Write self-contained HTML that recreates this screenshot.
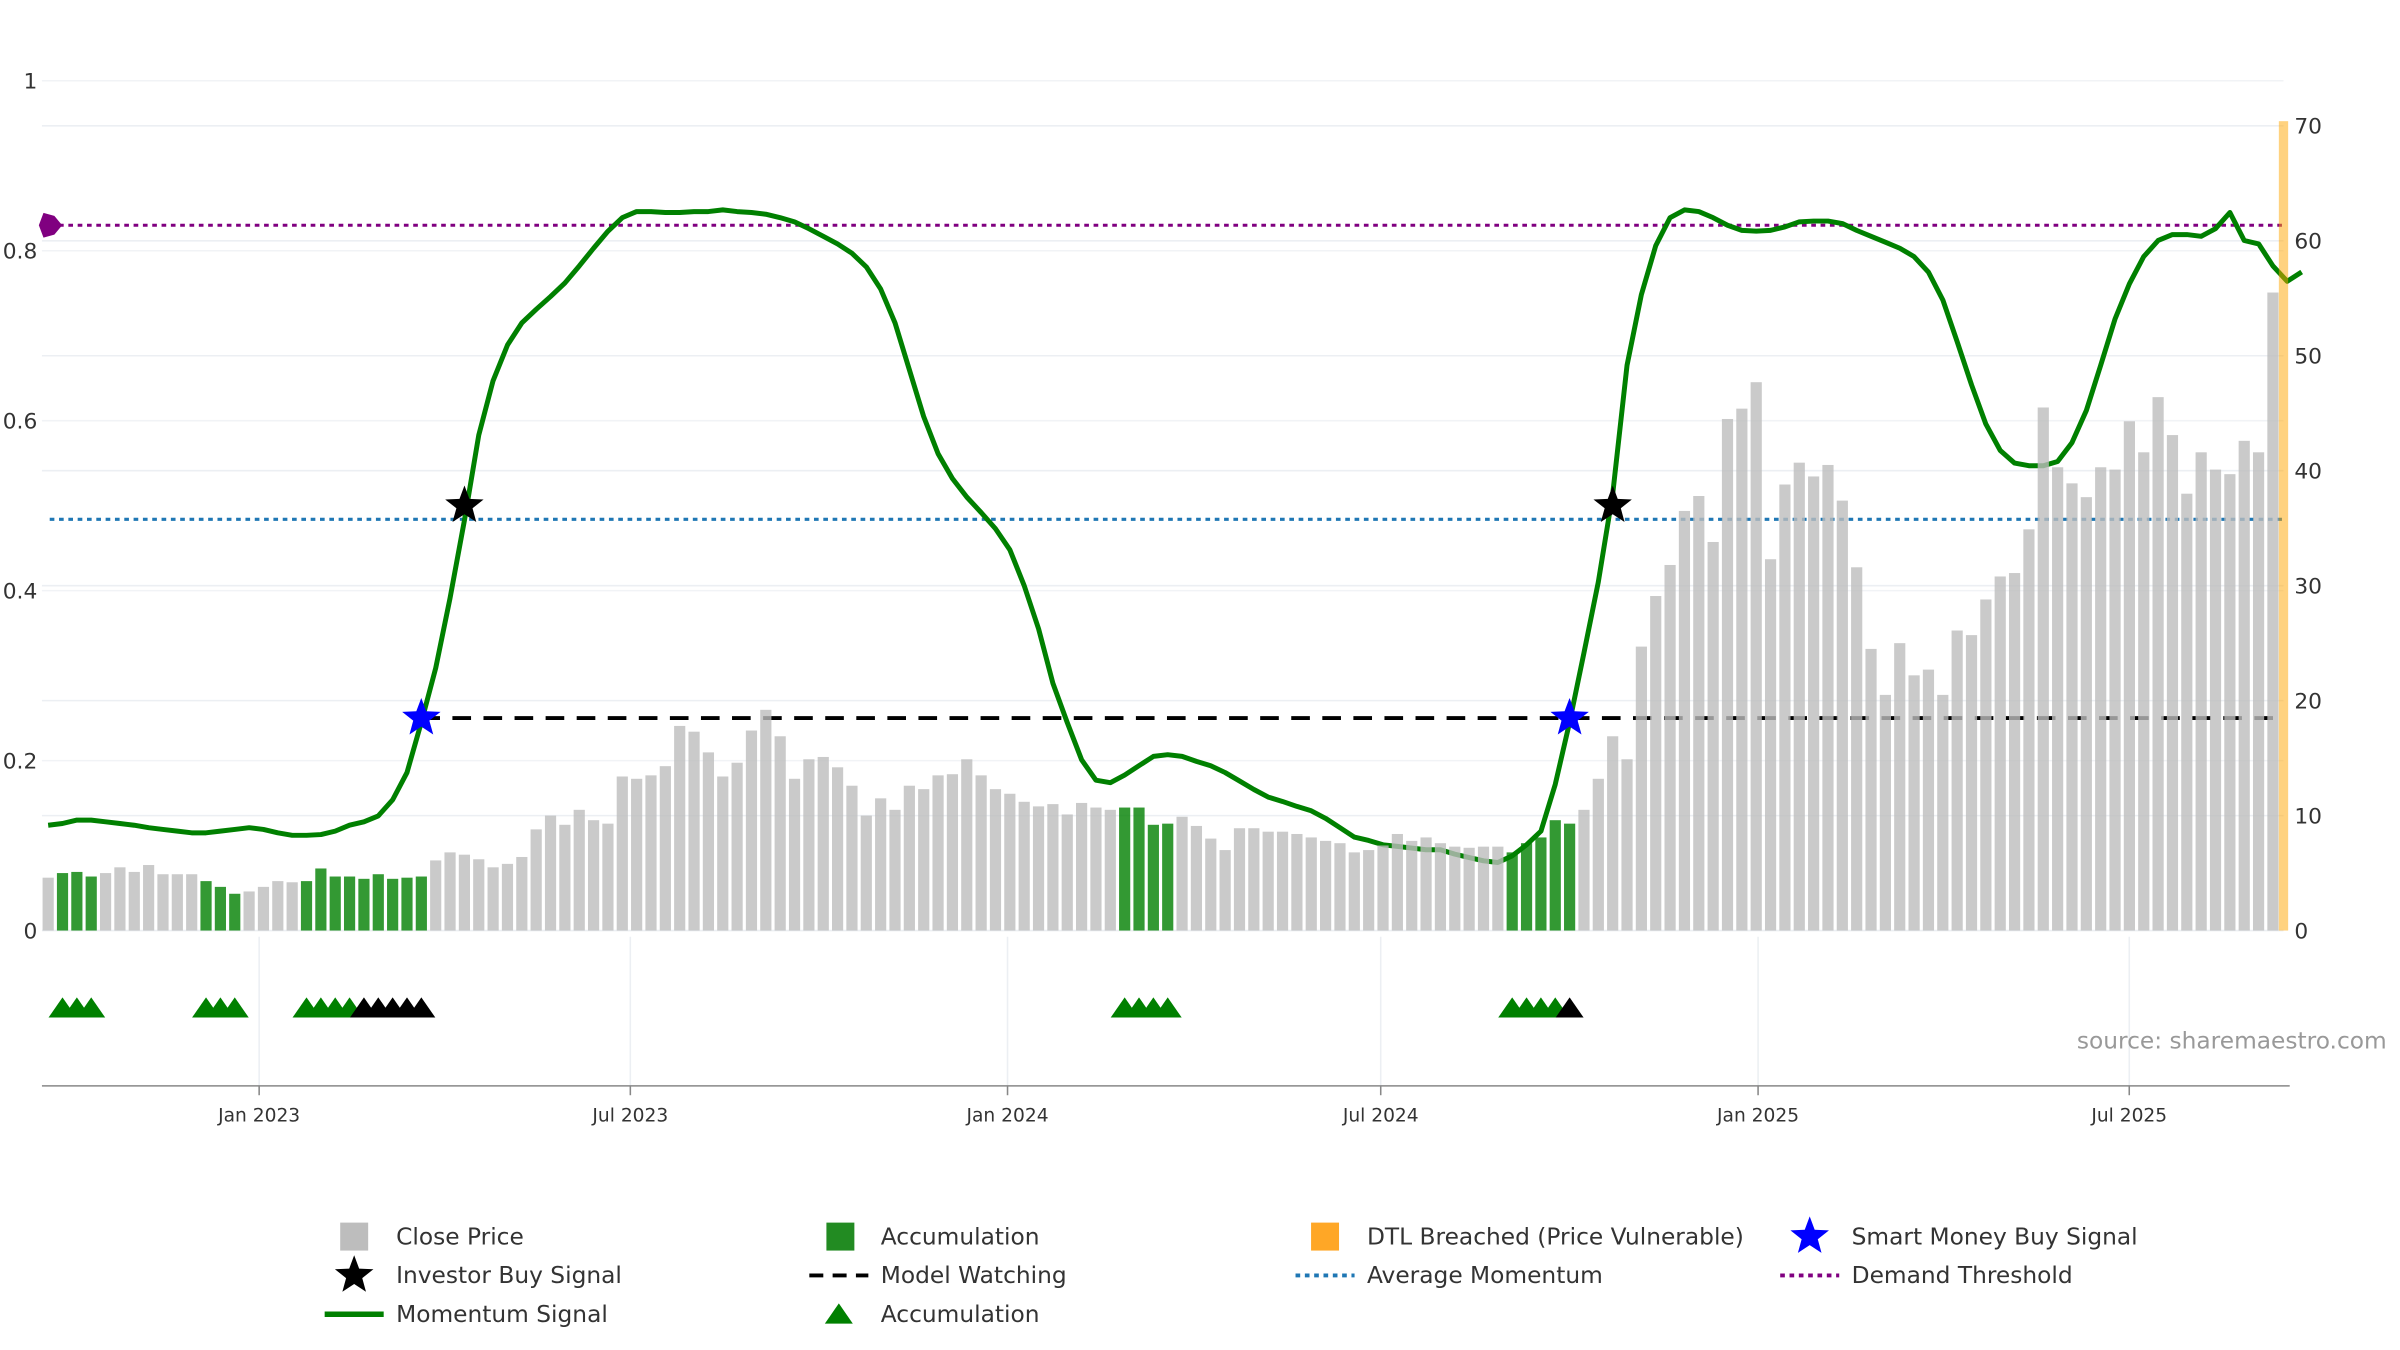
<!DOCTYPE html>
<html><head><meta charset="utf-8"><style>
html,body{margin:0;padding:0;background:#fff;}
svg{display:block;font-family:"DejaVu Sans","Liberation Sans",sans-serif;}
</style></head><body>
<svg id="chart" width="2400" height="1350" viewBox="0 0 1545 869" preserveAspectRatio="none" xmlns="http://www.w3.org/2000/svg">
<g id="grid"></g>
<g id="hlines"></g>
<g id="line"></g>
<g id="bars"></g>
<g id="marks"></g>
<g id="axes"></g>
<text x="1337" y="675" font-size="15" fill="#999">source: sharemaestro.com</text>
<g id="legend"></g>
</svg>
<script>
// ---- data ----
const closePrice = [4.6,5.0,5.1,4.7,5.0,5.5,5.1,5.7,4.9,4.9,4.9,4.3,3.8,3.2,3.4,3.8,4.3,4.2,4.3,5.4,4.7,4.7,4.5,4.9,4.5,4.6,4.7,6.1,6.8,6.6,6.2,5.5,5.8,6.4,8.8,10.0,9.2,10.5,9.6,9.3,13.4,13.2,13.5,14.3,17.8,17.3,15.5,13.4,14.6,17.4,19.2,16.9,13.2,14.9,15.1,14.2,12.6,10.0,11.5,10.5,12.6,12.3,13.5,13.6,14.9,13.5,12.3,11.9,11.2,10.8,11.0,10.1,11.1,10.7,10.5,10.7,10.7,9.2,9.3,9.9,9.1,8.0,7.0,8.9,8.9,8.6,8.6,8.4,8.1,7.8,7.6,6.8,7.0,7.4,8.4,7.8,8.1,7.6,7.3,7.2,7.3,7.3,6.8,7.6,8.1,9.6,9.3,10.5,13.2,16.9,14.9,24.7,29.1,31.8,36.5,37.8,33.8,44.5,45.4,47.7,32.3,38.8,40.7,39.5,40.5,37.4,31.6,24.5,20.5,25.0,22.2,22.7,20.5,26.1,25.7,28.8,30.8,31.1,34.9,45.5,40.3,38.9,37.7,40.3,40.1,44.3,41.6,46.4,43.1,38.0,41.6,40.1,39.7,42.6,41.6,55.5];
const momentum = [.124,.126,.130,.130,.128,.126,.124,.121,.119,.117,.115,.115,.117,.119,.121,.119,.115,.112,.112,.113,.117,.124,.128,.135,.154,.186,.245,.309,.391,.483,.583,.647,.689,.715,.731,.746,.762,.782,.803,.823,.839,.846,.846,.845,.845,.846,.846,.848,.846,.845,.843,.839,.834,.826,.817,.808,.797,.781,.755,.715,.660,.605,.561,.532,.510,.492,.473,.448,.406,.355,.291,.245,.201,.177,.174,.183,.194,.205,.207,.205,.199,.194,.186,.176,.166,.157,.152,.146,.141,.132,.121,.110,.106,.101,.099,.097,.095,.095,.090,.086,.082,.080,.088,.101,.117,.172,.245,.327,.410,.514,.665,.748,.806,.839,.848,.846,.839,.830,.824,.823,.824,.828,.834,.835,.835,.832,.824,.817,.810,.803,.793,.775,.742,.693,.642,.596,.565,.550,.547,.547,.552,.574,.612,.665,.720,.761,.793,.812,.819,.819,.817,.826,.845,.812,.808,.782,.764,.775];
const accumBars = [1,2,3,11,12,13,18,19,20,21,22,23,24,25,26,75,76,77,78,102,103,104,105,106];
const accumTriangles = [1,2,3,11,12,13,18,19,20,21,75,76,77,78,102,103,104,105];
const otherTriangles = [22,23,24,25,26,106];
const smartMoneyIdx = [26,106];
const investorIdx = [29,109];
const demandThreshold = 0.83;
const avgMomentum = 0.484;
const modelWatching = 0.25;
const modelWatchStart = 26;
const dateTickLabels = ["Jan 2023","Jul 2023","Jan 2024","Jul 2024","Jan 2025","Jul 2025"];
const dateTickWeeks = [14.7,40.56,66.84,92.84,119.13,144.99];
const leftTicks = [0,0.2,0.4,0.6,0.8,1];
const leftTickLabels = ["0","0.2","0.4","0.6","0.8","1"];
const rightTicks = [0,10,20,30,40,50,60,70];

// ---- scales ----
const X = i => 31 + 9.24*i;
const YL = v => 599 - 547*v;
const YR = v => 599 - 7.4*v;
const NS = "http://www.w3.org/2000/svg";
function mk(tag, attrs, parent){const e=document.createElementNS(NS,tag);for(const k in attrs)e.setAttribute(k,attrs[k]);parent.appendChild(e);return e;}
const G = id => document.getElementById(id);

// grid
rightTicks.forEach(t=>{const l=mk('line',{x1:27,x2:1470,y1:YR(t),y2:YR(t),stroke:'#eceff3','stroke-width':1},G('grid'));

});
leftTicks.forEach(t=>{if(t===0)return;const l=mk('line',{x1:27,x2:1470,y1:YL(t),y2:YL(t),stroke:'#f1f3f6','stroke-width':1},G('grid'));

});
dateTickWeeks.forEach(w=>{const l=mk('line',{x1:X(w),x2:X(w),y1:603,y2:699,stroke:'#eceff3','stroke-width':1},G('grid'));

});

// reference lines
let h=mk('line',{x1:32,x2:1470,y1:YL(demandThreshold),y2:YL(demandThreshold),stroke:'#800080','stroke-width':2,'stroke-dasharray':'3,3'},G('hlines'));


h=mk('line',{x1:32,x2:1470,y1:YL(avgMomentum),y2:YL(avgMomentum),stroke:'#1f77b4','stroke-width':2,'stroke-dasharray':'3,3'},G('hlines'));


h=mk('line',{x1:X(modelWatchStart),x2:1470,y1:YL(modelWatching),y2:YL(modelWatching),stroke:'#000','stroke-width':2.5,'stroke-dasharray':'12,8'},G('hlines'));


const cx=32,cy=YL(demandThreshold);
h=mk('polygon',{points:`${cx-4},${cy-8} ${cx+3},${cy-6} ${cx+8},${cy} ${cx+3},${cy+6} ${cx-4},${cy+8} ${cx-7},${cy}`,fill:'#800080'},G('hlines'));



// momentum line
const pts = momentum.map((v,i)=>`${X(i).toFixed(1)},${YL(v).toFixed(1)}`).join(' ');
h=mk('polyline',{points:pts,fill:'none',stroke:'#008000','stroke-width':3.2,'stroke-linejoin':'round'},G('line'));



// bars
closePrice.forEach((v,i)=>{const acc=accumBars.includes(i);
const r=mk('rect',{x:X(i)-3.6,y:YR(v),width:7.2,height:599-YR(v),fill:acc?'#008000':'#bdbdbd','fill-opacity':0.8},G('bars'));

});
h=mk('rect',{x:1467,y:78,width:6,height:521,fill:'#ffa500','fill-opacity':0.5},G('bars'));



// stars
function star(x,y,R,fill){const p=[];for(let k=0;k<10;k++){const r=k%2?R*0.42:R;const a=-Math.PI/2+k*Math.PI/5;p.push((x+r*Math.cos(a)).toFixed(1)+','+(y+r*Math.sin(a)).toFixed(1));}
return mk('polygon',{points:p.join(' '),fill:fill},G('marks'));}
smartMoneyIdx.forEach(i=>{const s=star(X(i),YL(modelWatching),13,'#0000ff');

});
investorIdx.forEach(i=>{const s=star(X(i),YL(0.5),13,'#000');

});
function tri(i,fill){const x=X(i);return mk('polygon',{points:`${x-9},655 ${x},642 ${x+9},655`,fill:fill},G('marks'));}
accumTriangles.forEach(i=>{const t=tri(i,'#008000');

});
otherTriangles.forEach(i=>{const t=tri(i,'#000');

});

// axes
h=mk('line',{x1:27,x2:1474,y1:699,y2:699,stroke:'#888','stroke-width':1},G('axes'));


leftTicks.forEach((t,k)=>{const e=mk('text',{x:24,y:YL(t)+5,'font-size':14,fill:'#333','text-anchor':'end'},G('axes'));e.textContent=leftTickLabels[k];

});
rightTicks.forEach(t=>{const e=mk('text',{x:1477,y:YR(t)+5,'font-size':14,fill:'#333'},G('axes'));e.textContent=String(t);

});
dateTickWeeks.forEach((w,k)=>{const x=X(w);const l=mk('line',{x1:x,x2:x,y1:699,y2:705,stroke:'#888'},G('axes'));


const e=mk('text',{x:x,y:722,'font-size':12,fill:'#333','text-anchor':'middle'},G('axes'));e.textContent=dateTickLabels[k];

});

// legend
const L=G('legend');
function ltext(x,y,s,name){const e=mk('text',{x:x,y:y+5,'font-size':15,fill:'#333'},L);e.textContent=s;

}
let s;
s=mk('rect',{x:219,y:787,width:18,height:18,fill:'#bdbdbd'},L);
ltext(255,796,'Close Price','legend-close-price');
s=mk('rect',{x:532,y:787,width:18,height:18,fill:'#228b22'},L);
ltext(567,796,'Accumulation','legend-accumulation-bar');
s=mk('rect',{x:844,y:787,width:18,height:18,fill:'#ffa726'},L);
ltext(880,796,'DTL Breached (Price Vulnerable)','legend-dtl-breached');
s=star(1165,796,13,'#0000ff');L.appendChild(s);
ltext(1192,796,'Smart Money Buy Signal','legend-smart-money');
s=star(228,821,13,'#000');L.appendChild(s);
ltext(255,821,'Investor Buy Signal','legend-investor-buy');
s=mk('line',{x1:521,x2:559,y1:821,y2:821,stroke:'#000','stroke-width':2.5,'stroke-dasharray':'9,6'},L);
ltext(567,821,'Model Watching','legend-model-watching');
s=mk('line',{x1:834,x2:872,y1:821,y2:821,stroke:'#1f77b4','stroke-width':2.5,'stroke-dasharray':'3,3'},L);
ltext(880,821,'Average Momentum','legend-average-momentum');
s=mk('line',{x1:1146,x2:1184,y1:821,y2:821,stroke:'#800080','stroke-width':2.5,'stroke-dasharray':'3,3'},L);
ltext(1192,821,'Demand Threshold','legend-demand-threshold');
s=mk('line',{x1:209,x2:247,y1:846,y2:846,stroke:'#008000','stroke-width':3.5},L);
ltext(255,846,'Momentum Signal','legend-momentum-signal');
s=mk('polygon',{points:'531,852 540,839 549,852',fill:'#008000'},L);
ltext(567,846,'Accumulation','legend-accumulation-triangle-label');
</script>
</body></html>
